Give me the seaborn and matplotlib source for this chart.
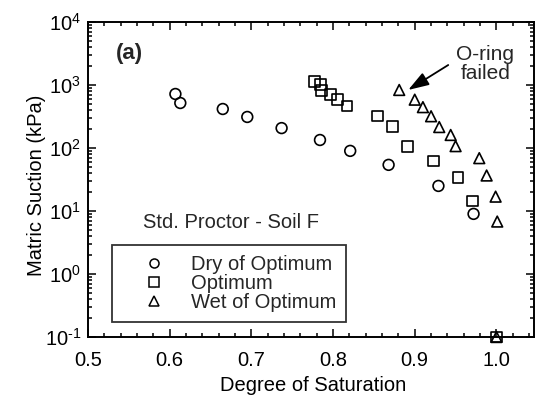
import matplotlib
matplotlib.use("Agg")
import matplotlib.pyplot as plt
import matplotlib.ticker as mticker
from matplotlib.lines import Line2D
import numpy as np
import pandas as pd
import seaborn as sns

# Degree of saturation vs. matric suction (kPa), standard Proctor, soil F
dry_sat = [0.607, 0.613, 0.665, 0.695, 0.737, 0.784, 0.821, 0.868, 0.929, 0.972]
dry_suction = [720, 518, 416, 311, 207, 134, 90, 54, 25, 9.0]

opt_sat = [0.777, 0.785, 0.786, 0.797, 0.805, 0.817, 0.854, 0.873, 0.891, 0.923, 0.953, 0.971, 1.0]
opt_suction = [1138, 1018, 819, 707, 593, 464, 322, 218, 106, 62, 34, 14.4, 0.1]

wet_sat = [0.881, 0.900, 0.910, 0.920, 0.930, 0.944, 0.950, 0.979, 0.988, 0.999, 1.001, 1.0]
wet_suction = [834, 585, 445, 319, 215, 161, 107, 69, 36.6, 16.9, 6.8, 0.1]

series_names = ["Dry of Optimum", "Optimum", "Wet of Optimum"]
series_markers = ["o", "s", "^"]

x_ticks = [0.5, 0.6, 0.7, 0.8, 0.9, 1.0]
x_tick_labels = ["0.5", "0.6", "0.7", "0.8", "0.9", "1.0"]
y_ticks = [1e-1, 1e0, 1e1, 1e2, 1e3, 1e4]
y_tick_labels = [r"$\mathdefault{10^{\text{-}1}}$", r"$\mathdefault{10^{0}}$",
                 r"$\mathdefault{10^{1}}$", r"$\mathdefault{10^{2}}$",
                 r"$\mathdefault{10^{3}}$", r"$\mathdefault{10^{4}}$"]

sns.set_theme(style="ticks")
plt.rcParams["font.family"] = ["Liberation Sans", "DejaVu Sans"]
plt.rcParams["mathtext.fontset"] = "custom"
plt.rcParams["mathtext.rm"] = "Liberation Sans"
plt.rcParams["mathtext.it"] = "Liberation Sans:italic"
plt.rcParams["mathtext.bf"] = "Liberation Sans:bold"
plt.rcParams["axes.unicode_minus"] = False

fig = plt.figure(figsize=(5.35, 4.0), dpi=100)
ax = fig.add_axes([88 / 535, 1 - 337 / 400, 446 / 535, 315 / 400])

frames = [
    pd.DataFrame({"sat": dry_sat, "suction": dry_suction}),
    pd.DataFrame({"sat": opt_sat, "suction": opt_suction}),
    pd.DataFrame({"sat": wet_sat, "suction": wet_suction}),
]
for df, mk in zip(frames, series_markers):
    sns.scatterplot(data=df, x="sat", y="suction", marker=mk, s=60,
                    facecolors="none", edgecolor="black", linewidth=1.2,
                    ax=ax, clip_on=False, zorder=3, legend=False)

ax.set_yscale("log")
ax.set_xlim(0.5, 1.046)
ax.set_ylim(1e-1, 1e4)

ax.set_xticks(x_ticks)
ax.set_xticklabels(x_tick_labels)
ax.xaxis.set_minor_locator(mticker.MultipleLocator(0.02))
ax.set_yticks(y_ticks)
ax.set_yticklabels(y_tick_labels)
ax.yaxis.set_minor_locator(mticker.LogLocator(base=10, subs=np.arange(2, 10), numticks=20))
ax.yaxis.set_minor_formatter(mticker.NullFormatter())

ax.tick_params(which="both", direction="in", top=True, right=True, colors="black",
               labelsize=14.5, width=1.1)
ax.tick_params(which="major", length=6)
ax.tick_params(which="minor", length=3)
ax.tick_params(axis="x", which="major", pad=10)
ax.tick_params(axis="y", which="major", pad=5)
for sp in ax.spines.values():
    sp.set_color("black")
    sp.set_linewidth(1.4)

ax.set_xlabel("Degree of Saturation", fontsize=14.5, color="black")
ax.set_ylabel("Matric Suction (kPa)", fontsize=14.5, color="black")
ax.xaxis.set_label_coords(0.5056, -0.124)
ax.yaxis.set_label_coords(-0.094, 0.481)

ax.text(0.063, 0.90, "(a)", transform=ax.transAxes, fontsize=16, fontweight="bold",
        va="center", ha="left")
ax.text(0.123, 0.362, "Std. Proctor - Soil F", transform=ax.transAxes, fontsize=14.5,
        va="center", ha="left")

ax.text(0.9865, 2150, "O-ring\nfailed", fontsize=15, ha="center", va="center",
        linespacing=1.0)
ax.annotate("", xy=(0.892, 834), xytext=(0.941, 2076),
            arrowprops=dict(arrowstyle="-|>,head_length=0.9,head_width=0.3",
                            mutation_scale=14, lw=1.3, color="black",
                            shrinkA=0, shrinkB=0))

handles = [Line2D([], [], linestyle="none", marker=m, markersize=6.5,
                  markerfacecolor="none", markeredgecolor="black", markeredgewidth=1.1)
           for m in series_markers]
leg = ax.legend(handles, series_names, loc="lower left", bbox_to_anchor=(0.054, 0.048),
                borderaxespad=0, frameon=True, fancybox=False, fontsize=14.5,
                handlelength=3.2, handletextpad=0.2, labelspacing=0.0,
                borderpad=0.5)
leg.get_frame().set_edgecolor("black")
leg.get_frame().set_linewidth(1.3)

fig.savefig("out.png", dpi=100)
